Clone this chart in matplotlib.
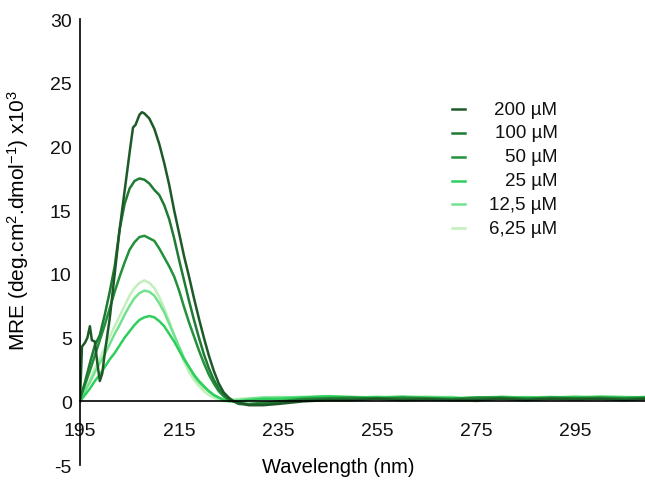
import matplotlib
matplotlib.use("Agg")
import matplotlib.pyplot as plt
import numpy as np

plt.rcParams['font.family'] = ['Liberation Sans', 'DejaVu Sans']
plt.rcParams['mathtext.fontset'] = 'custom'
plt.rcParams['mathtext.rm'] = 'Liberation Sans'
plt.rcParams['mathtext.it'] = 'Liberation Sans:italic'
plt.rcParams['axes.unicode_minus'] = False

# shared wavelength grid (nm)
wl = list(range(195, 226)) + [227, 229, 232, 235, 240, 245, 250, 255, 260, 265,
                              270, 275, 280, 285, 290, 295, 300, 305, 310]
tail_wl = wl[31:]

# 200 uM has a spike near 197 nm, so it gets its own grid
wl_200 = [195, 195.4, 196, 196.5, 197, 197.4, 198, 198.5, 199, 199.5, 200, 201, 202, 203,
          204, 205, 205.7, 206.2, 207, 207.5, 208, 209, 210, 211, 212, 213, 214, 215,
          216, 217, 218, 219, 220, 221, 222, 223, 224, 225, 226] + tail_wl[1:]
mre_200 = [0.0, 4.3, 4.6, 5.0, 5.9, 4.8, 4.7, 3.0, 1.6, 2.2, 3.8, 6.5, 10.0, 13.5,
           16.5, 19.5, 21.5, 21.7, 22.5, 22.7, 22.6, 22.2, 21.4, 20.2, 18.7, 17.0, 15.0, 13.2,
           11.4, 9.8, 8.1, 6.5, 5.0, 3.6, 2.4, 1.4, 0.7, 0.3, 0.0,
           -0.3, -0.3, -0.2, 0.0, 0.1, 0.1, 0.2, 0.1, 0.15, 0.1, 0.1, 0.2, 0.1, 0.2,
           0.15, 0.2, 0.1, 0.2]

mre_100 = [0.2, 1.5, 3.0, 4.4, 5.2, 6.8, 8.6, 10.6, 13.5, 15.5, 16.7, 17.3, 17.5, 17.4,
           17.1, 16.6, 16.2, 15.4, 14.3, 12.8, 11.1, 9.5, 7.9, 6.4, 5.0, 3.7, 2.6, 1.7,
           1.0, 0.5, 0.2,
           -0.2, -0.25, -0.2, -0.1, 0.1, 0.2, 0.2, 0.25, 0.2, 0.2, 0.15, 0.2, 0.25, 0.2,
           0.2, 0.25, 0.2, 0.2, 0.25]

mre_50 = [0.2, 1.3, 2.4, 3.6, 4.8, 6.0, 7.3, 8.6, 9.8, 10.9, 11.9, 12.5, 12.9, 13.0,
          12.8, 12.6, 12.0, 11.3, 10.6, 9.8, 8.7, 7.4, 6.2, 5.1, 4.0, 3.0, 2.1, 1.4,
          0.8, 0.4, 0.1,
          -0.1, -0.2, -0.1, 0.0, 0.2, 0.25, 0.3, 0.2, 0.3, 0.25, 0.2, 0.3, 0.3, 0.2,
          0.3, 0.25, 0.3, 0.25, 0.3]

mre_25 = [0.0, 0.5, 1.0, 1.6, 2.1, 2.7, 3.3, 3.8, 4.4, 5.0, 5.5, 6.0, 6.4, 6.6,
          6.7, 6.6, 6.3, 5.9, 5.3, 4.7, 4.0, 3.3, 2.7, 2.1, 1.6, 1.2, 0.8, 0.5,
          0.3, 0.1, 0.0,
          0.0, 0.1, 0.2, 0.2, 0.3, 0.4, 0.3, 0.35, 0.3, 0.3, 0.25, 0.3, 0.35, 0.3,
          0.3, 0.35, 0.3, 0.3, 0.35]

mre_12 = [0.1, 0.8, 1.5, 2.3, 3.0, 3.7, 4.5, 5.3, 6.0, 6.8, 7.5, 8.1, 8.5, 8.7,
          8.6, 8.3, 7.7, 7.0, 6.1, 5.2, 4.3, 3.4, 2.7, 2.0, 1.5, 1.1, 0.8, 0.5,
          0.3, 0.15, 0.1,
          0.1, 0.2, 0.3, 0.3, 0.35, 0.4, 0.35, 0.3, 0.4, 0.3, 0.35, 0.1, 0.35, 0.3,
          0.35, 0.3, 0.4, 0.35, 0.3]

mre_6 = [0.0, 0.9, 1.7, 2.6, 3.4, 4.2, 5.1, 5.9, 6.7, 7.5, 8.3, 8.9, 9.3, 9.5,
         9.3, 8.9, 8.2, 7.3, 6.3, 5.2, 4.1, 3.1, 2.3, 1.7, 1.2, 0.8, 0.5, 0.3,
         0.1, 0.0, 0.1,
         0.2, 0.25, 0.3, 0.35, 0.3, 0.4, 0.35, 0.2, 0.3, 0.4, 0.3, 0.0, 0.3, 0.35,
         0.3, 0.4, 0.3, 0.3, 0.35]

labels = ["200 µM", "100 µM", "50 µM", "25 µM", "12,5 µM", "6,25 µM"]
colors = ["#1d5a28", "#1f7a33", "#22913a", "#2fcf5d", "#72e28e", "#c2f0bb"]

series = [(wl_200, mre_200), (wl, mre_100), (wl, mre_50), (wl, mre_25), (wl, mre_12), (wl, mre_6)]

fig = plt.figure(figsize=(6.45, 4.81), dpi=100)
ax = fig.add_axes([0.124, 0.031, 0.876, 0.927])

# draw lightest first so darker ones sit on top
for (x, y), c in reversed(list(zip(series, colors))):
    ax.plot(x, y, color=c, lw=1.8)

ax.set_xlim(195, 309)
ax.set_ylim(-5, 30)
ax.spines['top'].set_visible(False)
ax.spines['right'].set_visible(False)
ax.spines['bottom'].set_position(('data', 0))
ax.spines['left'].set_linewidth(1.2)
ax.spines['bottom'].set_linewidth(1.2)
ax.set_xticks([195, 215, 235, 255, 275, 295])
ax.set_yticks([-5, 0, 5, 10, 15, 20, 25, 30])
ax.tick_params(axis='both', length=0, labelsize=14, colors='#111111')
ax.tick_params(axis='x', pad=15)
ax.tick_params(axis='y', pad=6)

ax.set_ylabel(r'MRE (deg.cm$^{2}$.dmol$^{-1}$) x10$^{3}$', fontsize=15)
ax.yaxis.set_label_coords(-0.087, 0.55)
ax.set_xlabel('Wavelength (nm)', fontsize=14.5)
ax.xaxis.set_label_coords(0.457, 0.018)

# legend: short dash then right-aligned label
for i, (lab, c) in enumerate(zip(labels, colors)):
    yy = (466 - (110 + 23.8 * i)) / 446
    ax.plot([0.658, 0.681], [yy, yy], color=c, lw=1.8, transform=ax.transAxes, clip_on=False)
    ax.text(0.845, yy, lab, transform=ax.transAxes, ha='right', va='center', fontsize=13.5, color='#111111')

fig.savefig("out.png", dpi=100)
